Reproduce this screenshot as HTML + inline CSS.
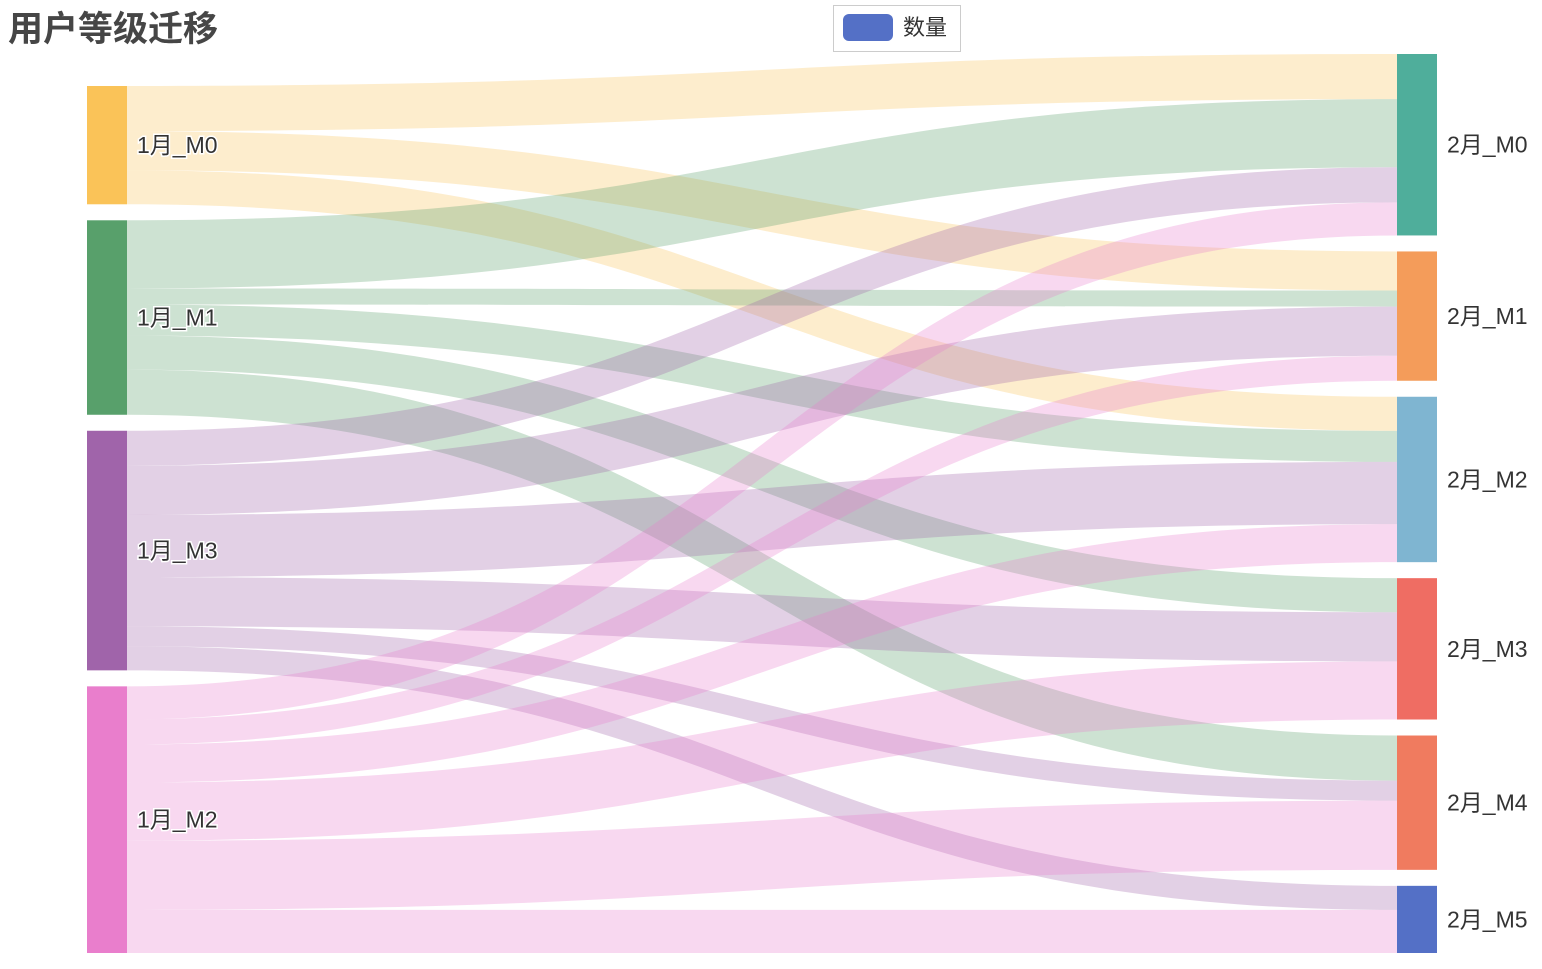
<!DOCTYPE html>
<html><head><meta charset="utf-8"><style>
body{margin:0;background:#fff;}
svg text{font-family:"Liberation Sans","Noto Sans CJK SC",sans-serif;}
</style></head><body>
<svg id="chart" width="1542" height="964" viewBox="0 0 1542 964" xmlns="http://www.w3.org/2000/svg">
<text x="8" y="41" font-size="35" font-weight="bold" fill="#464646">用户等级迁移</text>
<g>
<rect x="833.5" y="5.5" width="127" height="46" fill="#fff" stroke="#ccc"/>
<rect x="843" y="14" width="50" height="27" rx="6" fill="#5470c6"/>
<text x="903" y="35" font-size="22" fill="#333">数量</text>
</g>
<g id="links"></g><g id="nodes"></g>
</svg>
<script>
const leftNodes = ["1月_M0","1月_M1","1月_M3","1月_M2"];
const rightNodes = ["2月_M0","2月_M1","2月_M2","2月_M3","2月_M4","2月_M5"];
const leftColors = ["#fac358","#58a06b","#a064aa","#e97ecc"];
const rightColors = ["#4fae9b","#f49c5a","#7fb5d1","#ef6d63","#f07b5f","#5470c6"];
// flows[source][target]
const flowsM0 = [45,39,34,0,0,0];
const flowsM1 = [68,16,31,34,45,0];
const flowsM3 = [35,49,62,49,20,24];
const flowsM2 = [33,25,38,58,69,43];
const flows = [flowsM0,flowsM1,flowsM3,flowsM2];

const NS="http://www.w3.org/2000/svg";
const topY=54,bottomY=953,gap=16,x0=87,x1=1397,nw=40;
const leftTot=flows.map(r=>r.reduce((a,b)=>a+b,0));
const rightTot=rightNodes.map((_,j)=>flows.reduce((a,r)=>a+r[j],0));
const sumR=rightTot.reduce((a,b)=>a+b,0), sumL=leftTot.reduce((a,b)=>a+b,0);
const k=Math.min((bottomY-topY-gap*(rightNodes.length-1))/sumR,(bottomY-topY-gap*(leftNodes.length-1))/sumL);
let ly=[],yy=bottomY-(sumL*k+gap*(leftNodes.length-1));
leftTot.forEach(t=>{ly.push(yy);yy+=t*k+gap;});
let ry=[];yy=bottomY-(sumR*k+gap*(rightNodes.length-1));
rightTot.forEach(t=>{ry.push(yy);yy+=t*k+gap;});
const linksG=document.getElementById('links'),nodesG=document.getElementById('nodes');
const rOff=ry.slice();
flows.forEach((row,i)=>{let sy=ly[i];row.forEach((v,j)=>{if(!v)return;const h=v*k,ty=rOff[j];
const xa=x0+nw,xb=x1,xm=(xa+xb)/2;
const p=document.createElementNS(NS,'path');
p.setAttribute('d',`M${xa},${sy}C${xm},${sy} ${xm},${ty} ${xb},${ty}L${xb},${ty+h}C${xm},${ty+h} ${xm},${sy+h} ${xa},${sy+h}Z`);
p.setAttribute('fill',leftColors[i]);p.setAttribute('fill-opacity','0.3');


linksG.appendChild(p);sy+=h;rOff[j]+=h;});});
function node(x,y0,h,c,label,lx,name){
const r=document.createElementNS(NS,'rect');r.setAttribute('x',x);r.setAttribute('y',y0);r.setAttribute('width',nw);r.setAttribute('height',h);r.setAttribute('fill',c);


nodesG.appendChild(r);
const t=document.createElementNS(NS,'text');t.setAttribute('x',lx);t.setAttribute('y',y0+h/2+8);t.setAttribute('font-size','23');t.setAttribute('fill','#333');
t.setAttribute('stroke','#fff');t.setAttribute('stroke-width','3');t.setAttribute('paint-order','stroke');t.textContent=label;


nodesG.appendChild(t);}
leftNodes.forEach((n,i)=>node(x0,ly[i],leftTot[i]*k,leftColors[i],n,137,'node-left-'+i));
rightNodes.forEach((n,j)=>node(x1,ry[j],rightTot[j]*k,rightColors[j],n,1447,'node-right-'+j));
</script>
</body></html>
